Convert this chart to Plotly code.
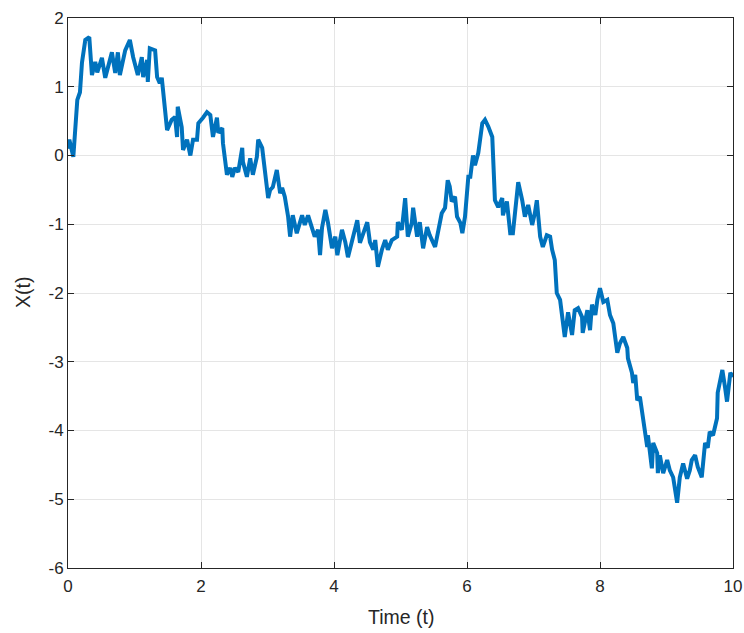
import plotly.graph_objects as go

# Time values (t) and process values X(t)
t = [0.0, 0.02, 0.08, 0.11, 0.14, 0.18, 0.21, 0.26, 0.32, 0.36, 0.41, 0.44, 0.51, 0.56,
     0.66, 0.71, 0.75, 0.78, 0.86, 0.93, 0.98, 1.05, 1.11, 1.13, 1.19, 1.20, 1.23, 1.31,
     1.34, 1.38, 1.41, 1.49, 1.56, 1.61, 1.64, 1.65, 1.71, 1.73, 1.79, 1.84, 1.88, 1.94,
     1.96, 2.03, 2.09, 2.14, 2.18, 2.24, 2.26, 2.32, 2.33, 2.39, 2.44, 2.47, 2.51, 2.56,
     2.62, 2.63, 2.69, 2.74, 2.78, 2.84, 2.86, 2.92, 2.96, 3.01, 3.04, 3.08, 3.14, 3.19,
     3.22, 3.26, 3.31, 3.34, 3.38, 3.44, 3.52, 3.56, 3.61, 3.67, 3.71, 3.76, 3.79, 3.82,
     3.87, 3.91, 3.97, 4.02, 4.05, 4.12, 4.17, 4.21, 4.27, 4.35, 4.39, 4.44, 4.50, 4.54,
     4.59, 4.62, 4.66, 4.72, 4.77, 4.81, 4.87, 4.95, 4.96, 5.02, 5.07, 5.11, 5.17, 5.19,
     5.25, 5.29, 5.34, 5.40, 5.44, 5.52, 5.56, 5.62, 5.67, 5.71, 5.74, 5.77, 5.82, 5.85,
     5.90, 5.93, 5.97, 6.00, 6.02, 6.05, 6.09, 6.12, 6.17, 6.23, 6.27, 6.32, 6.38, 6.42,
     6.47, 6.53, 6.54, 6.60, 6.65, 6.69, 6.75, 6.77, 6.83, 6.87, 6.92, 6.98, 7.02, 7.05,
     7.10, 7.14, 7.20, 7.25, 7.28, 7.32, 7.35, 7.40, 7.47, 7.52, 7.58, 7.62, 7.67, 7.73,
     7.74, 7.81, 7.85, 7.88, 7.93, 7.96, 8.00, 8.05, 8.11, 8.15, 8.20, 8.26, 8.30, 8.35,
     8.41, 8.42, 8.48, 8.50, 8.53, 8.56, 8.60, 8.65, 8.71, 8.72, 8.78, 8.80, 8.86, 8.87,
     8.90, 8.95, 9.01, 9.05, 9.10, 9.16, 9.20, 9.25, 9.31, 9.35, 9.38, 9.43, 9.47, 9.53,
     9.58, 9.62, 9.65, 9.70, 9.76, 9.77, 9.84, 9.88, 9.91, 9.96, 10.0]

x_t = [0.10, 0.23, -0.02, 0.52, 0.81, 0.92, 1.35, 1.68, 1.72, 1.17, 1.36, 1.21, 1.42, 1.13,
       1.50, 1.20, 1.50, 1.17, 1.53, 1.68, 1.43, 1.17, 1.43, 1.14, 1.39, 1.07, 1.56, 1.53,
       1.14, 1.05, 1.13, 0.37, 0.52, 0.56, 0.27, 0.71, 0.41, 0.08, 0.23, 0.00, 0.23, 0.23,
       0.47, 0.55, 0.63, 0.59, 0.27, 0.55, 0.33, 0.40, 0.18, -0.28, -0.18, -0.31, -0.18, -0.24,
       0.11, -0.09, -0.31, -0.04, -0.28, -0.02, 0.23, 0.11, -0.21, -0.62, -0.50, -0.46, -0.21, -0.55,
       -0.47, -0.60, -0.89, -1.18, -0.87, -1.13, -0.87, -1.01, -0.87, -1.04, -1.18, -1.08, -1.45, -1.05,
       -0.79, -0.98, -1.35, -1.18, -1.45, -1.08, -1.26, -1.48, -1.27, -0.94, -1.27, -1.13, -0.97, -1.26,
       -1.37, -1.23, -1.62, -1.37, -1.23, -1.37, -1.23, -1.18, -0.97, -1.08, -0.62, -1.18, -0.98, -0.76,
       -1.18, -0.97, -1.35, -1.04, -1.16, -1.33, -1.13, -0.84, -0.76, -0.36, -0.45, -0.67, -0.60, -0.89,
       -0.98, -1.13, -0.89, -0.50, -0.31, -0.31, 0.00, -0.14, 0.04, 0.47, 0.52, 0.42, 0.27, -0.65,
       -0.75, -0.62, -0.87, -0.67, -1.13, -1.13, -0.65, -0.39, -0.65, -0.89, -0.72, -1.01, -0.84, -0.65,
       -1.18, -1.33, -1.16, -1.18, -1.37, -1.52, -2.00, -2.10, -2.64, -2.28, -2.61, -2.25, -2.22, -2.35,
       -2.58, -2.25, -2.54, -2.17, -2.32, -2.10, -1.93, -2.13, -2.10, -2.32, -2.44, -2.87, -2.73, -2.64,
       -2.80, -2.95, -3.16, -3.31, -3.19, -3.56, -3.51, -3.85, -4.24, -4.07, -4.55, -4.18, -4.33, -4.62,
       -4.36, -4.62, -4.43, -4.58, -4.68, -5.05, -4.68, -4.48, -4.70, -4.58, -4.43, -4.36, -4.53, -4.68,
       -4.18, -4.25, -4.02, -4.07, -3.82, -3.45, -3.12, -3.37, -3.58, -3.16, -3.22]

x_ticks = [0, 2, 4, 6, 8, 10]
y_ticks = [-6, -5, -4, -3, -2, -1, 0, 1, 2]
x_label = "Time (t)"
y_label = "X(t)"

FONT = "Liberation Sans, Arial, sans-serif"
INK = "#262626"

fig = go.Figure()
fig.add_trace(go.Scatter(x=t, y=x_t, mode="lines",
                         line=dict(color="#0072BD", width=4), showlegend=False))

axis_common = dict(
    showgrid=True, gridcolor="#e5e5e5", gridwidth=1,
    showline=True, linecolor=INK, linewidth=1, mirror="ticks",
    ticks="inside", ticklen=6, tickcolor=INK,
    zeroline=False, automargin=False,
    tickfont=dict(family=FONT, size=17, color=INK),
)

fig.update_layout(
    width=744, height=633,
    margin=dict(l=68, r=11, t=18, b=65),
    paper_bgcolor="white", plot_bgcolor="white",
    font=dict(family=FONT, color=INK),
    xaxis=dict(range=[0, 10], tickvals=x_ticks, ticktext=[str(v) for v in x_ticks],
               ticklabelstandoff=3, **axis_common),
    yaxis=dict(range=[-6, 2], tickvals=y_ticks, ticktext=[str(v) for v in y_ticks],
               **axis_common),
    annotations=[
        dict(text=x_label, xref="paper", yref="paper", x=0.5, y=0,
             xanchor="center", yanchor="middle", yshift=-49, showarrow=False,
             font=dict(family=FONT, size=19.5, color=INK)),
        dict(text=y_label, xref="paper", yref="paper", x=0, y=0.5,
             xanchor="center", yanchor="middle", xshift=-45, textangle=-90,
             showarrow=False, font=dict(family=FONT, size=19.5, color=INK)),
    ],
)

# remove the default page margin so the figure fills the window exactly
fig.write_html(
    "out.html",
    config={"displayModeBar": False},
    post_script="document.body.style.margin='0';document.body.style.overflow='hidden';",
)
